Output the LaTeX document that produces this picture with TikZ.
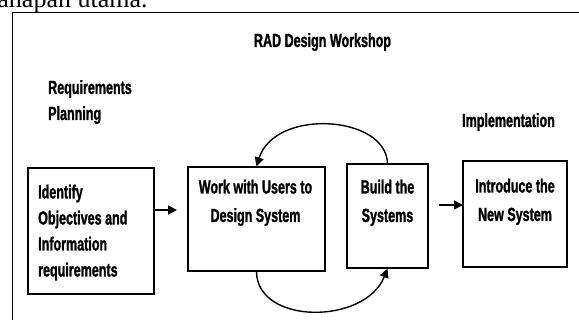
\documentclass[tikz,border=0pt]{standalone}
\usepackage{fontspec}
\setmainfont{Liberation Serif}
\newfontfamily\narrowsans[FakeStretch=0.66, BoldFeatures={FakeBold=1.2}]{Liberation Sans}
\usetikzlibrary{arrows.meta}
\begin{document}
\begin{tikzpicture}[x=1pt,y=-1pt,
  lbl/.style={font=\narrowsans\bfseries\fontsize{19}{26}\selectfont, inner sep=0pt, align=center},
  boxtext/.style={lbl, font=\narrowsans\bfseries\fontsize{19}{28.5}\selectfont, anchor=north},
  stagebox/.style={draw, line width=1.3pt, inner sep=0pt},
  conn/.style={line width=1.4pt, -{Triangle[length=9pt,width=9pt]}}]
\useasboundingbox (0,0) rectangle (579,320);
\clip (0,0) rectangle (579,320);
\node[anchor=base west, font=\fontsize{26}{30}\selectfont, inner sep=0pt] (top) at (-10,7.5) {tahapan utama.};
\draw[line width=1.8pt] (590,12.5) -- (12.5,12.5) -- (12.5,330);
\node[lbl, anchor=north] (title) at (322.5,33) {RAD Design Workshop};
\node[lbl, align=left, anchor=north west] (rp) at (48,80) {Requirements\\Planning};
\node[lbl, anchor=north] (impl) at (508.5,113) {Implementation};
\node[stagebox, minimum width=126pt, minimum height=126pt] (b1) at (91,231) {};
\node[lbl, align=left, anchor=north west] (t1) at (38,184.5) {Identify\\Objectives and\\Information\\requirements};
\node[stagebox, minimum width=137pt, minimum height=104pt] (b2) at (256.5,219) {};
\node[boxtext] (t2) at (255.5,179.5) {Work with Users to\\Design System};
\node[stagebox, minimum width=81pt, minimum height=104pt] (b3) at (387.5,216) {};
\node[boxtext] (t3) at (387.5,179.5) {Build the\\Systems};
\node[stagebox, minimum width=104pt, minimum height=106pt] (b4) at (515,214) {};
\node[boxtext] (t4) at (515,178.5) {Introduce the\\New System};
\coordinate (a1s) at (154,210);
\coordinate (a1e) at (177,210);
\draw[conn] (a1s) -- (a1e);
\coordinate (a2s) at (439,205);
\coordinate (a2e) at (463,205);
\draw[conn] (a2s) -- (a2e);
\draw[conn] (b3.north) .. controls (386,115) and (275,108) .. (b2.north);
\draw[conn] (b2.south) .. controls (257,325) and (365,325) .. (b3.south);
\end{tikzpicture}
\end{document}
